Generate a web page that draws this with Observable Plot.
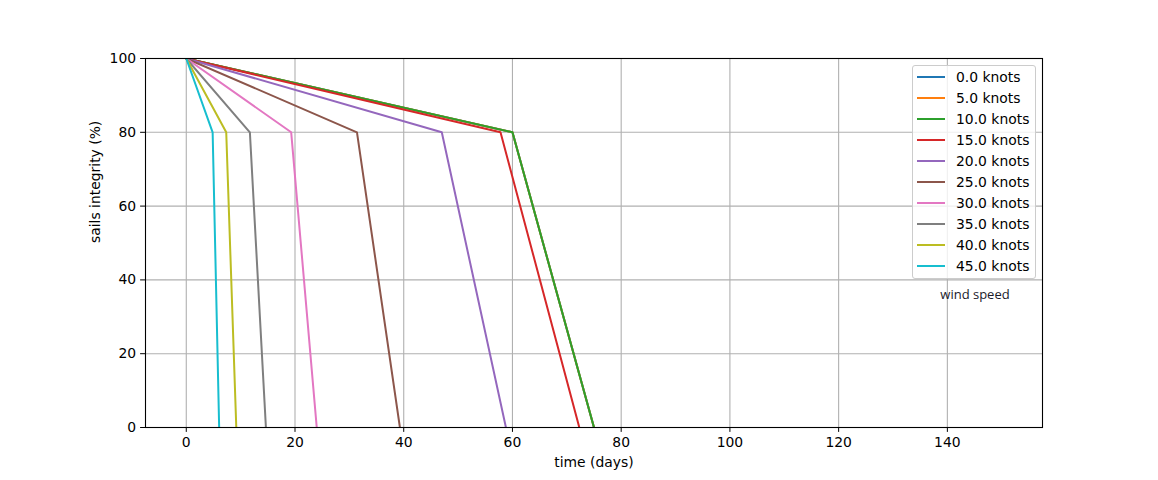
<!DOCTYPE html>
<html><head><meta charset="utf-8">
<script src="https://cdn.jsdelivr.net/npm/d3@7"></script>
<script src="https://cdn.jsdelivr.net/npm/@observablehq/plot@0.6"></script>
<style>
html,body{margin:0;padding:0;background:#fff;}
#wrap{position:relative;width:1158px;height:480px;overflow:hidden;}
#legend{position:absolute;left:912px;top:65px;width:122px;height:212px;border:1px solid #cccccc;border-radius:3px;background:rgba(255,255,255,0.8);box-sizing:content-box;font-family:"DejaVu Sans";font-size:13.9px;color:#000;}
.row{position:absolute;left:0;height:21px;width:122px;}
.sw{position:absolute;left:4px;top:9.5px;width:28px;height:2px;}
.lb{position:absolute;left:43px;top:0;line-height:21px;white-space:nowrap;}
#ws{position:absolute;left:925px;width:100px;top:285px;text-align:center;font-family:"Open Sans";font-size:13px;color:#1a1a2a;}
</style></head><body><div id="wrap"></div>
<script>
const speeds = [0, 5, 10, 15, 20, 25, 30, 35, 40, 45];
const labels = ["0.0 knots","5.0 knots","10.0 knots","15.0 knots","20.0 knots","25.0 knots","30.0 knots","35.0 knots","40.0 knots","45.0 knots"];
const colors = ["#1f77b4","#ff7f0e","#2ca02c","#d62728","#9467bd","#8c564b","#e377c2","#7f7f7f","#bcbd22","#17becf"];
const startDay = [0, 0, 0, 0, 0, 0, 0, 0, 0, 0];
const startVal = [100, 100, 100, 100, 100, 100, 100, 100, 100, 100];
const breakDay = [60, 60, 60, 57.8, 47.0, 31.4, 19.3, 11.7, 7.35, 4.85];
const breakVal = [80, 80, 80, 80, 80, 80, 80, 80, 80, 80];
const endDay = [75, 75, 75, 72.3, 58.8, 39.3, 24.0, 14.65, 9.2, 6.05];
const endVal = [0, 0, 0, 0, 0, 0, 0, 0, 0, 0];
const xTicks = [0, 20, 40, 60, 80, 100, 120, 140];
const yTicks = [0, 20, 40, 60, 80, 100];
const xDomain = [-7.5, 157.5];
const yDomain = [0, 100];

const rows = speeds.flatMap((s, i) => [
  {speed: s, t: startDay[i], v: startVal[i]},
  {speed: s, t: breakDay[i], v: breakVal[i]},
  {speed: s, t: endDay[i], v: endVal[i]}
]);

const chart = Plot.plot({
  width: 1158, height: 480,
  marginLeft: 145, marginRight: 116, marginTop: 58, marginBottom: 53,
  style: {fontFamily: "DejaVu Sans", fontSize: "13.9px", color: "#000", background: "#fff", overflow: "visible"},
  x: {domain: xDomain},
  y: {domain: yDomain},
  color: {type: "ordinal", domain: speeds, range: colors},
  marks: [
    Plot.gridX(xTicks, {stroke: "#b0b0b0", strokeOpacity: 1, strokeWidth: 1.1}),
    Plot.gridY(yTicks, {stroke: "#b0b0b0", strokeOpacity: 1, strokeWidth: 1.1}),
    Plot.line(rows, {x: "t", y: "v", z: "speed", stroke: "speed", strokeWidth: 2, clip: true}),
    Plot.frame({stroke: "#000", strokeWidth: 1.1}),
    Plot.axisX(xTicks, {tickSize: 4.9, tickPadding: 4.5, label: null, stroke: "#000"}),
    Plot.axisY(yTicks, {tickSize: 4.9, tickPadding: 4.5, label: null, stroke: "#000"}),
    Plot.text(["time (days)"], {frameAnchor: "bottom", dy: 35, fill: "#000", lineAnchor: "middle"}),
    Plot.text(["sails integrity (%)"], {frameAnchor: "left", dx: -50, rotate: -90, fill: "#000", lineAnchor: "middle"})
  ]
});
const wrap = document.getElementById("wrap");
wrap.appendChild(chart);

const legend = document.createElement("div");
legend.id = "legend";
speeds.forEach((s, i) => {
  const r = document.createElement("div");
  r.className = "row";
  r.style.top = (0.5 + i * 21.03) + "px";
  const sw = document.createElement("div");
  sw.className = "sw";
  sw.style.background = colors[i];
  const lb = document.createElement("div");
  lb.className = "lb";
  lb.textContent = labels[i];
  r.appendChild(sw); r.appendChild(lb);
  legend.appendChild(r);
});
wrap.appendChild(legend);
const ws = document.createElement("div");
ws.id = "ws";
ws.textContent = "wind speed";
wrap.appendChild(ws);
</script>
</body></html>
